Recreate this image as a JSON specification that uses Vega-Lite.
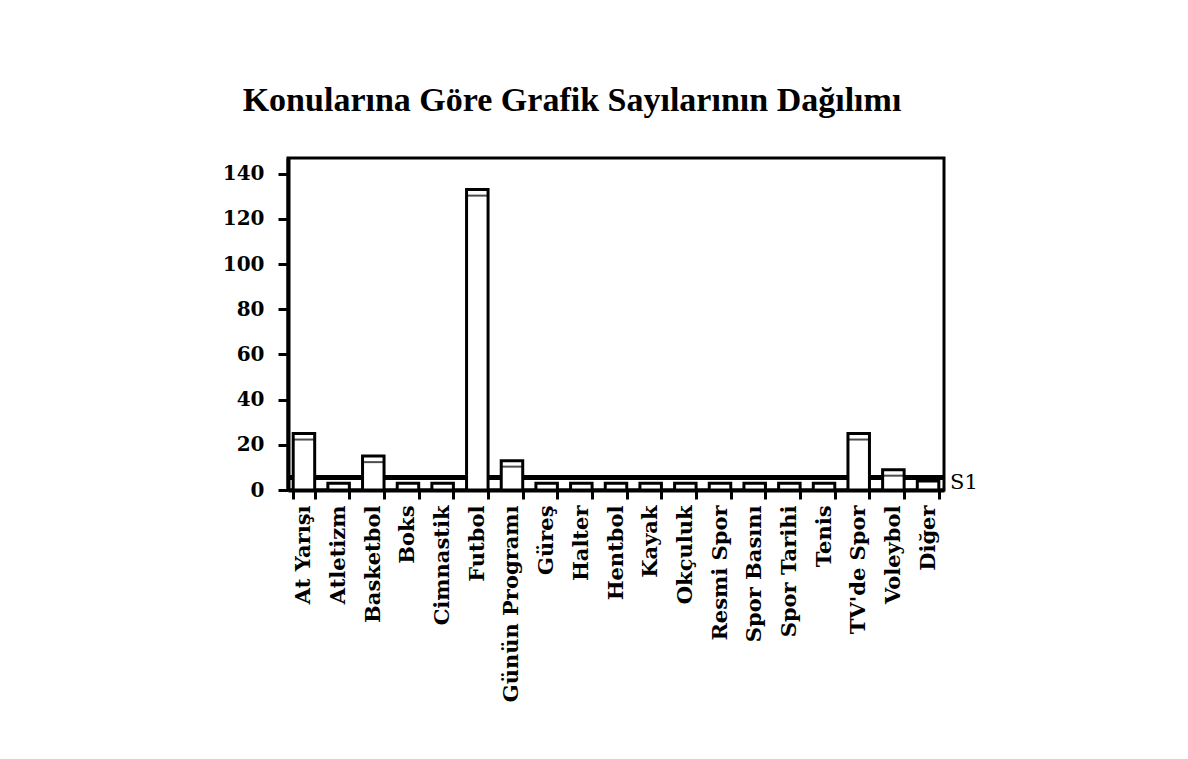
{
  "$schema": "https://vega.github.io/schema/vega-lite/v6.json",
  "width": 656,
  "height": 332,
  "padding": {"left": 222, "top": 84, "right": 10, "bottom": 10},
  "background": "white",
  "title": {
    "text": "Konularına Göre Grafik Sayılarının Dağılımı",
    "font": "Liberation Serif",
    "fontSize": 34,
    "fontWeight": "bold",
    "color": "black",
    "anchor": "middle",
    "dx": -44,
    "offset": 40
  },
  "data": {
    "values": [
      {"konu": "At Yarışı", "sayi": 25, "seri": "S1"},
      {"konu": "Atletizm", "sayi": 3, "seri": "S1"},
      {"konu": "Basketbol", "sayi": 15, "seri": "S1"},
      {"konu": "Boks", "sayi": 3, "seri": "S1"},
      {"konu": "Cimnastik", "sayi": 3, "seri": "S1"},
      {"konu": "Futbol", "sayi": 133, "seri": "S1"},
      {"konu": "Günün Programı", "sayi": 13, "seri": "S1"},
      {"konu": "Güreş", "sayi": 3, "seri": "S1"},
      {"konu": "Halter", "sayi": 3, "seri": "S1"},
      {"konu": "Hentbol", "sayi": 3, "seri": "S1"},
      {"konu": "Kayak", "sayi": 3, "seri": "S1"},
      {"konu": "Okçuluk", "sayi": 3, "seri": "S1"},
      {"konu": "Resmi Spor", "sayi": 3, "seri": "S1"},
      {"konu": "Spor Basını", "sayi": 3, "seri": "S1"},
      {"konu": "Spor Tarihi", "sayi": 3, "seri": "S1"},
      {"konu": "Tenis", "sayi": 3, "seri": "S1"},
      {"konu": "TV'de Spor", "sayi": 25, "seri": "S1"},
      {"konu": "Voleybol", "sayi": 9, "seri": "S1"},
      {"konu": "Diğer", "sayi": 4, "seri": "S1"}
    ]
  },
  "encoding": {
    "x": {
      "field": "konu",
      "type": "nominal",
      "sort": null,
      "scale": {"paddingInner": 0.38, "paddingOuter": 0.15},
      "axis": {
        "title": null,
        "labelAngle": -90,
        "labelLimit": 400,
        "labelFont": "DejaVu Serif",
        "labelFontSize": 21,
        "labelFontWeight": "bold",
        "labelColor": "black",
        "labelPadding": 6,
        "tickBand": "extent",
        "tickSize": 9,
        "tickWidth": 3,
        "tickColor": "black",
        "domainColor": "black",
        "domainWidth": 4
      }
    }
  },
  "layer": [
    {
      "mark": {"type": "rule", "color": "black", "strokeWidth": 4},
      "encoding": {"x": null, "y": {"datum": 5.5, "type": "quantitative"}}
    },
    {
      "mark": {"type": "bar", "stroke": "black", "strokeWidth": 3, "strokeJoin": "miter"},
      "encoding": {
        "y": {
          "field": "sayi",
          "type": "quantitative",
          "scale": {"domain": [0, 147], "nice": false},
          "axis": {
            "title": null,
            "values": [0, 20, 40, 60, 80, 100, 120, 140],
            "labelFont": "DejaVu Serif",
            "labelFontSize": 20,
            "labelFontWeight": "bold",
            "labelColor": "black",
            "labelPadding": 14,
            "tickSize": 10,
            "tickWidth": 3,
            "tickColor": "black",
            "domainColor": "black",
            "domainWidth": 4,
            "grid": false
          }
        },
        "fill": {
          "field": "seri",
          "type": "nominal",
          "scale": {"range": ["white"]},
          "legend": {
            "title": null,
            "orient": "none",
            "legendX": 641,
            "legendY": 314,
            "symbolSize": 0,
            "symbolStrokeWidth": 0,
            "symbolOpacity": 0,
            "labelFont": "DejaVu Serif",
            "labelFontSize": 21,
            "labelColor": "black",
            "labelOffset": 0
          }
        }
      }
    },
    {
      "transform": [{"filter": "datum.sayi > 5"}],
      "mark": {"type": "tick", "color": "black", "thickness": 2, "size": 20, "yOffset": 6},
      "encoding": {
        "y": {"field": "sayi", "type": "quantitative"}
      }
    }
  ],
  "config": {
    "view": {"stroke": "black", "strokeWidth": 3}
  }
}
